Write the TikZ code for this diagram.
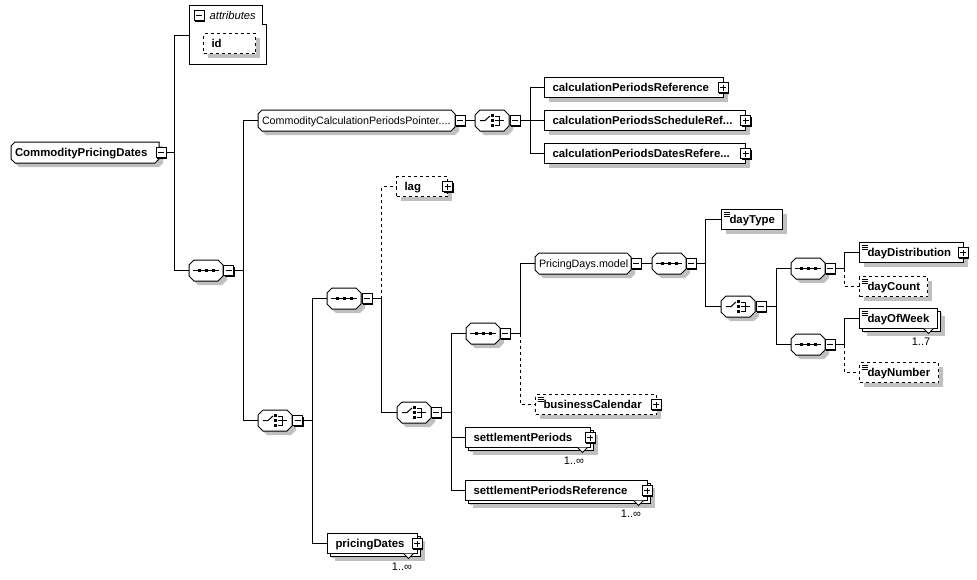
\documentclass[tikz,border=0pt]{standalone}
\usepackage{fontspec}
\setmainfont{Liberation Sans}
\usetikzlibrary{shapes.misc,shadows}
\definecolor{shadegray}{RGB}{192,192,192}
\tikzset{
    line/.style={line width=1pt},
    optline/.style={line width=1pt,dash pattern=on 3pt off 3pt},
    shade/.style={drop shadow={shadow xshift=4pt,shadow yshift=-4pt,fill=shadegray,opacity=1}},
    elembox/.style={rectangle,draw,fill=white,line width=1pt,outer sep=0pt,anchor=west,inner xsep=8pt,inner ysep=0pt,minimum height=20pt,text height=9.5pt,text depth=1.5pt,align=left,font=\fontsize{11.4}{12}\selectfont\bfseries,shade},
    optbox/.style={elembox,dash pattern=on 3pt off 3pt},
    stackbox/.style={elembox,drop shadow={shadow xshift=7pt,shadow yshift=-7pt,fill=shadegray,opacity=1},copy shadow={shadow xshift=3pt,shadow yshift=-3pt,draw=black,fill=white,opacity=1}},
    octbox/.style={chamfered rectangle,chamfered rectangle xsep=4pt,chamfered rectangle ysep=0pt,draw,fill=white,line width=1pt,outer sep=0pt,anchor=west,inner xsep=0pt,inner ysep=0pt,minimum height=21pt,text height=9.5pt,text depth=1.5pt,align=left,font=\fontsize{10.7}{12}\selectfont,shade},
    compbox/.style={octbox,chamfered rectangle xsep=5pt,chamfered rectangle ysep=5pt,minimum width=34pt},
    minusbtn/.style={rectangle,draw,fill=white,line width=1pt,outer sep=0pt,inner sep=0pt,minimum size=10pt,drop shadow={shadow xshift=1pt,shadow yshift=-1pt,fill=black,opacity=1},
        path picture={\draw[line width=1pt] ([xshift=2pt]path picture bounding box.west) -- ([xshift=-2pt]path picture bounding box.east);}},
    plusbtn/.style={minusbtn,
        path picture={\draw[line width=1pt] ([xshift=2pt]path picture bounding box.west) -- ([xshift=-2pt]path picture bounding box.east);
            \draw[line width=1pt] ([yshift=-2pt]path picture bounding box.north) -- ([yshift=2pt]path picture bounding box.south);}},
    mult/.style={inner sep=0pt,font=\fontsize{11}{12}\selectfont},
    seqicon/.pic={
        \draw[line width=1pt] (-13,0) -- (13,0);
        \foreach \i in {-7,0,7} \fill (\i-1.5,-1.5) rectangle (\i+1.5,1.5);
    },
    choiceicon/.pic={
        \draw[line width=1pt] (-12,0) -- (-7,0) -- (-2,-4.5);
        \foreach \i in {-5,0,5} \fill (-1,\i-1.5) rectangle (2,\i+1.5);
        \draw[line width=1pt] (3,-4.5) -- (7,-4.5) -- (7,4.5) -- (3,4.5);
        \draw[line width=1pt] (3,0) -- (12,0);
    },
    docicon/.pic={
        \foreach \i in {2.5,4.5,6.5} \draw[line width=.8pt] (2,\i) -- (8,\i);
    },
    stacktip/.pic={
        \draw[line width=1pt,fill=white] (-5,0) -- (0,5) -- (5,0);
    }
}

\begin{document}
\begin{tikzpicture}[x=1pt,y=-1pt]
    \useasboundingbox (0,0) rectangle (977,579);

    % Root element and attributes
    \node[octbox,chamfered rectangle corners={north west,south west,south east},text width=140pt,font=\fontsize{11.4}{12}\selectfont\bfseries] (root) at (11,152.5) {CommodityPricingDates};
    \node[minusbtn] (rootBtn) at (161,152.5) {};
    \draw[line,fill=white] (189.5,5.5) -- (262,5.5) -- (262,24.5) -- (266.5,24.5) -- (266.5,64.5) -- (189.5,64.5) -- cycle;
    \coordinate (attrGroup) at (189.5,35.5);
    \node[minusbtn] (attrBtn) at (199,15.5) {};
    \node[inner sep=0pt,anchor=west,font=\fontsize{11.2}{12}\selectfont\itshape] (attrLabel) at (209.5,15) {attributes};
    \node[optbox,text width=36pt] (idAttr) at (203.5,43.5) {id};

    % First level
    \coordinate (rootBus) at (174.5,152.5);
    \node[compbox] (seqA) at (189,270.5) {};
    \node[minusbtn] (seqABtn) at (228.5,270.5) {};
    \pic at (seqA.center) {seqicon};
    \draw[line] (rootBtn.east) -- (rootBus) |- (attrGroup);
    \draw[line] (rootBus) |- (seqA.west);

    % Calculation periods pointer
    \coordinate (seqABus) at (243.5,270.5);
    \node[octbox,text width=189pt] (pointer) at (258,120.5) {CommodityCalculationPeriodsPointer....};
    \node[minusbtn] (pointerBtn) at (460,120.5) {};
    \node[compbox] (choiceA) at (475,120.5) {};
    \node[minusbtn] (choiceABtn) at (515,120.5) {};
    \pic at (choiceA.center) {choiceicon};
    \coordinate (choiceABus) at (530,120.5);
    \node[elembox,text width=163pt] (calcRef) at (544.5,87.5) {calculationPeriodsReference};
    \node[elembox,text width=185pt] (calcSchedule) at (544.5,120.5) {calculationPeriodsScheduleRef...};
    \node[elembox,text width=185pt] (calcDates) at (544.5,153.5) {calculationPeriodsDatesRefere...};
    \node[plusbtn] (calcRefBtn) at (723,87.5) {};
    \node[plusbtn] (calcScheduleBtn) at (745.5,120.5) {};
    \node[plusbtn] (calcDatesBtn) at (745.5,153.5) {};
    \draw[line] (pointerBtn.east) -- (choiceA.west);
    \draw[line] (choiceABtn.east) -- (calcSchedule.west);
    \draw[line] (choiceABus) |- (calcRef.west);
    \draw[line] (choiceABus) |- (calcDates.west);

    % Pricing choice
    \node[compbox] (choiceB) at (258,420.5) {};
    \node[minusbtn] (choiceBBtn) at (297.5,420.5) {};
    \pic at (choiceB.center) {choiceicon};
    \draw[line] (seqABtn.east) -- (seqABus) |- (pointer.west);
    \draw[line] (seqABus) |- (choiceB.west);
    \coordinate (choiceBBus) at (312.5,420.5);
    \node[compbox] (seqB) at (327,298.5) {};
    \node[minusbtn] (seqBBtn) at (367,298.5) {};
    \pic at (seqB.center) {seqicon};
    \node[stackbox,text width=74pt] (pricingDates) at (327.5,543.5) {pricingDates};
    \pic at ([xshift=-9pt]pricingDates.south east) {stacktip};
    \node[plusbtn] (pricingDatesBtn) at (417,543.5) {};
    \node[mult] (pricingDatesMult) at (402,567) {1..∞};
    \draw[line] (choiceBBtn.east) -- (choiceBBus) |- (seqB.west);
    \draw[line] (choiceBBus) |- (pricingDates.west);

    % Lag and nested choice
    \coordinate (seqBBus) at (381.5,298.5);
    \node[optbox,text width=35pt] (lag) at (396.5,186.5) {lag};
    \node[plusbtn] (lagBtn) at (447.5,186.5) {};
    \node[compbox] (choiceC) at (397,412.5) {};
    \node[minusbtn] (choiceCBtn) at (436,412.5) {};
    \pic at (choiceC.center) {choiceicon};
    \draw[line] (seqBBtn.east) -- (seqBBus);
    \draw[optline] (seqBBus) |- (lag.west);
    \draw[line] (seqBBus) |- (choiceC.west);

    % Settlement periods
    \coordinate (choiceCBus) at (451.5,412.5);
    \node[compbox] (seqC) at (466,333.5) {};
    \node[minusbtn] (seqCBtn) at (505,333.5) {};
    \pic at (seqC.center) {seqicon};
    \node[stackbox,text width=109pt] (settlePeriods) at (465.5,437.5) {settlementPeriods};
    \pic at ([xshift=-8pt]settlePeriods.south east) {stacktip};
    \node[plusbtn] (settlePeriodsBtn) at (590,437.5) {};
    \node[mult] (settlePeriodsMult) at (574,461) {1..∞};
    \node[stackbox,text width=166pt] (settleRef) at (465.5,490.5) {settlementPeriodsReference};
    \pic at ([xshift=-9pt]settleRef.south east) {stacktip};
    \node[plusbtn] (settleRefBtn) at (647,490.5) {};
    \node[mult] (settleRefMult) at (631,514) {1..∞};
    \draw[line] (choiceCBtn.east) -- (choiceCBus) |- (seqC.west);
    \draw[line] (choiceCBus) |- (settlePeriods.west);
    \draw[line] (choiceCBus) |- (settleRef.west);

    % Pricing days model
    \coordinate (seqCBus) at (520.5,333.5);
    \node[octbox,text width=88pt] (pricingDays) at (535,263.5) {PricingDays.model};
    \node[minusbtn] (pricingDaysBtn) at (636,263.5) {};
    \node[optbox,text width=105pt] (businessCal) at (535.5,404.5) {businessCalendar};
    \pic at (businessCal.north west) {docicon};
    \node[plusbtn] (businessCalBtn) at (656,404.5) {};
    \draw[line] (seqCBtn.east) -- (seqCBus) |- (pricingDays.west);
    \draw[optline] (seqCBus) |- (businessCal.west);
    \node[compbox] (seqD) at (652,263.5) {};
    \node[minusbtn] (seqDBtn) at (691,263.5) {};
    \pic at (seqD.center) {seqicon};
    \draw[line] (pricingDaysBtn.east) -- (seqD.west);

    % Day type and day choice
    \coordinate (seqDBus) at (705.5,263.5);
    \node[elembox,text width=45pt] (dayType) at (721.5,219.5) {dayType};
    \pic at (dayType.north west) {docicon};
    \node[compbox] (choiceD) at (721,306.5) {};
    \node[minusbtn] (choiceDBtn) at (761,306.5) {};
    \pic at (choiceD.center) {choiceicon};
    \draw[line] (seqDBtn.east) -- (seqDBus) |- (dayType.west);
    \draw[line] (seqDBus) |- (choiceD.west);

    \coordinate (choiceDBus) at (776.5,306.5);
    \node[compbox] (seqE) at (791,268.5) {};
    \node[minusbtn] (seqEBtn) at (830,268.5) {};
    \pic at (seqE.center) {seqicon};
    \node[compbox] (seqF) at (791,344.5) {};
    \node[minusbtn] (seqFBtn) at (830,344.5) {};
    \pic at (seqF.center) {seqicon};
    \draw[line] (choiceDBtn.east) -- (choiceDBus) |- (seqE.west);
    \draw[line] (choiceDBus) |- (seqF.west);

    % Day leaves
    \coordinate (seqEBus) at (844.5,268.5);
    \coordinate (seqFBus) at (844.5,344.5);
    \node[elembox,text width=88pt] (dayDist) at (859.5,252.5) {dayDistribution};
    \pic at (dayDist.north west) {docicon};
    \node[plusbtn] (dayDistBtn) at (963,252.5) {};
    \node[optbox,text width=52pt] (dayCount) at (859.5,286.5) {dayCount};
    \pic at (dayCount.north west) {docicon};
    \node[stackbox,text width=62pt] (dayOfWeek) at (859.5,318.5) {dayOfWeek};
    \pic at (dayOfWeek.north west) {docicon};
    \pic at ([xshift=-9pt]dayOfWeek.south east) {stacktip};
    \node[mult] (dayOfWeekMult) at (921,342) {1..7};
    \node[optbox,text width=63pt] (dayNumber) at (859.5,372.5) {dayNumber};
    \pic at (dayNumber.north west) {docicon};
    \draw[line] (seqEBtn.east) -- (seqEBus) |- (dayDist.west);
    \draw[optline] (seqEBus) |- (dayCount.west);
    \draw[line] (seqFBtn.east) -- (seqFBus) |- (dayOfWeek.west);
    \draw[optline] (seqFBus) |- (dayNumber.west);
\end{tikzpicture}
\end{document}
